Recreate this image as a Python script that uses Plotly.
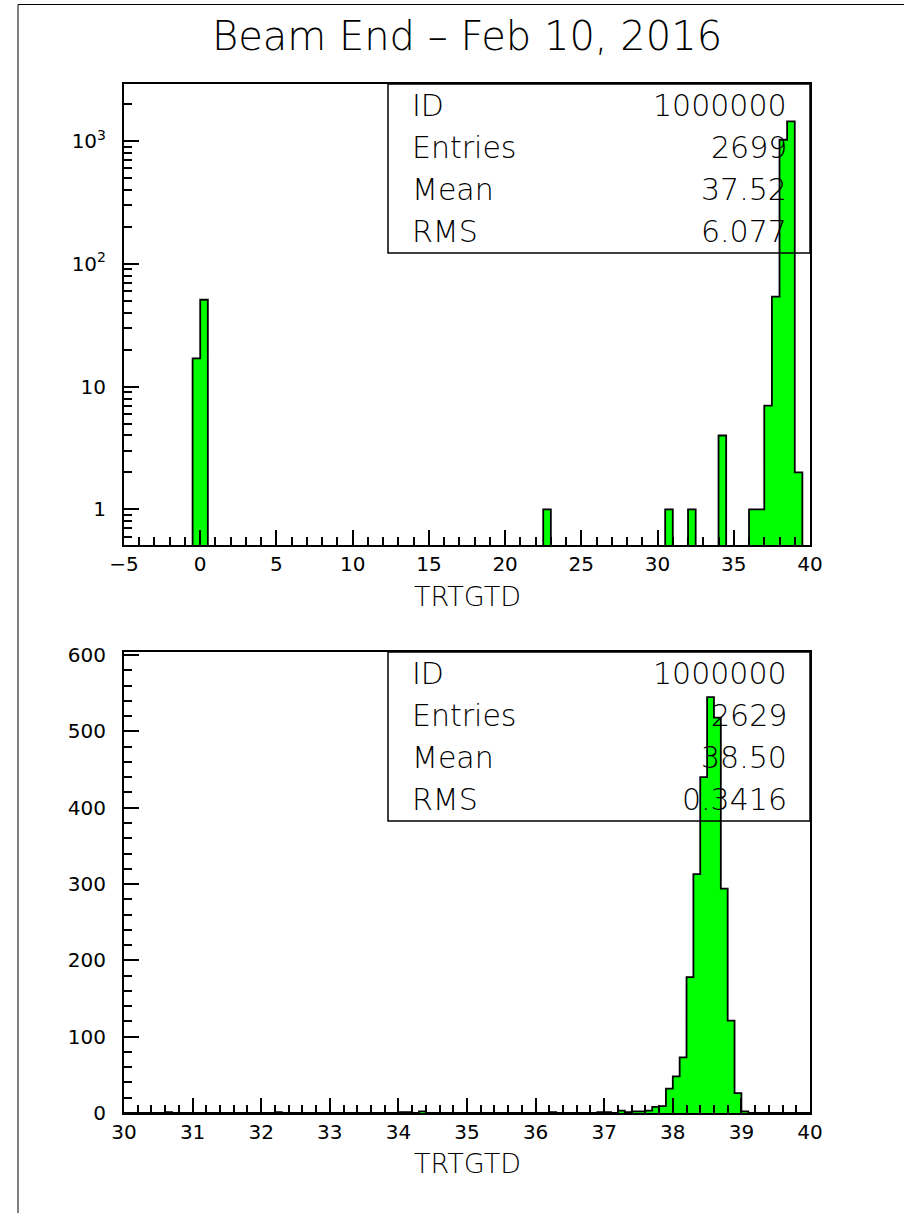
import numpy as np
import plotly.graph_objects as go

W, H = 904, 1213

TITLE = "Beam End – Feb 10, 2016"
X_LABEL = "TRTGTD"
STAT_NAMES = ["ID", "Entries", "Mean", "RMS"]

# Upper histogram: 90 bins of width 0.5 from -5 to 40 (only filled bins listed)
top_xmin, top_xmax, top_bw = -5.0, 40.0, 0.5
top_bin_low = [-0.5, 0.0, 22.5, 30.5, 32.0, 34.0, 36.0, 36.5, 37.0, 37.5, 38.0, 38.5, 39.0]
top_counts = [17, 51, 1, 1, 1, 4, 1, 1, 7, 54, 1025, 1450, 2]
top_stats = ["1000000", "2699", "37.52", "6.077"]

# Lower histogram: 100 bins of width 0.1 from 30 to 40 (only filled bins listed)
bot_xmin, bot_xmax, bot_bw = 30.0, 40.0, 0.1
bot_bin_low = [30.6, 32.2, 34.0, 34.1, 34.3, 36.2, 36.9, 37.0, 37.2, 37.3, 37.4,
               37.5, 37.6, 37.7, 37.8, 37.9, 38.0, 38.1, 38.2, 38.3, 38.4, 38.5,
               38.6, 38.7, 38.8, 38.9, 39.0]
bot_counts = [1, 1, 1, 1, 2, 1, 1, 1, 3, 1, 2,
              2, 3, 8, 9, 32, 48, 73, 178, 313, 440, 545,
              518, 294, 121, 26, 2]
bot_stats = ["1000000", "2629", "38.50", "0.3416"]


def fill_bins(xmin, xmax, bw, lows, counts):
    n = int(round((xmax - xmin) / bw))
    edges = xmin + bw * np.arange(n + 1)
    vals = np.zeros(n)
    for lo, c in zip(lows, counts):
        vals[int(round((lo - xmin) / bw))] = c
    return edges, vals


def step_outline(edges, vals, floor):
    xs, ys = [edges[0]], [floor]
    for i, v in enumerate(vals):
        v = v if v > 0 else floor
        xs += [edges[i], edges[i + 1]]
        ys += [v, v]
    xs.append(edges[-1])
    ys.append(floor)
    return xs, ys


def px_x(x):
    return x / W


def px_y(y):
    return 1 - y / H


FONT = "DejaVu Sans"
GREEN = "#00ff00"


def font(size, weight=200):
    return dict(family=FONT, size=size, color="black", weight=weight)


# frame geometry in page pixels
L, R = 124, 810
T1, B1 = 84, 545
T2, B2 = 652, 1113

fig = go.Figure()

e1, v1 = fill_bins(top_xmin, top_xmax, top_bw, top_bin_low, top_counts)
x1, y1 = step_outline(e1, v1, 0.05)
fig.add_trace(go.Scatter(x=x1, y=y1, mode="lines", fill="toself", fillcolor=GREEN,
                         line=dict(color="black", width=1.8), xaxis="x", yaxis="y",
                         showlegend=False, hoverinfo="skip"))

e2, v2 = fill_bins(bot_xmin, bot_xmax, bot_bw, bot_bin_low, bot_counts)
x2, y2 = step_outline(e2, v2, 0.0)
fig.add_trace(go.Scatter(x=x2, y=y2, mode="lines", fill="toself", fillcolor=GREEN,
                         line=dict(color="black", width=1.8), xaxis="x2", yaxis="y2",
                         showlegend=False, hoverinfo="skip"))

axis_common = dict(showline=True, linecolor="black", linewidth=2, mirror=True,
                   ticks="inside", tickcolor="black", tickwidth=1.5, ticklen=15,
                   showgrid=False, zeroline=False, automargin=False,
                   tickfont=font(20, 400))
minor_common = dict(ticks="inside", ticklen=8, tickcolor="black", tickwidth=1.5,
                    showgrid=False)

log_minor = [m * 10 ** k for k in range(-1, 4) for m in range(2, 10)]
log_minor = [v for v in log_minor if 0.5 < v < 3000 and v not in (1, 10, 100, 1000)]

fig.update_layout(
    template="none",
    width=W, height=H, autosize=False,
    margin=dict(l=0, r=0, t=0, b=0, pad=0),
    paper_bgcolor="white", plot_bgcolor="white",
    xaxis=dict(domain=[px_x(L), px_x(R)], range=[top_xmin, top_xmax], anchor="y",
               tickmode="linear", tick0=0, dtick=5,
               minor=dict(dtick=1, tick0=0, **minor_common), **axis_common),
    yaxis=dict(domain=[px_y(B1), px_y(T1)], type="log", range=[-0.29, 3.465], anchor="x",
               tickmode="array", tickvals=[1, 10, 100, 1000],
               ticktext=["1", "10", "10<sup>2</sup>", "10<sup>3</sup>"],
               minor=dict(tickmode="array", tickvals=log_minor, **minor_common),
               ticklabelstandoff=12, **axis_common),
    xaxis2=dict(domain=[px_x(L), px_x(R)], range=[bot_xmin, bot_xmax], anchor="y2",
                tickmode="linear", tick0=30, dtick=1,
                minor=dict(dtick=0.2, tick0=30, **minor_common), **axis_common),
    yaxis2=dict(domain=[px_y(B2), px_y(T2)], range=[0, 604], anchor="x2",
                tickmode="linear", tick0=0, dtick=100,
                minor=dict(dtick=20, tick0=0, **minor_common),
                ticklabelstandoff=12, **axis_common),
)

shapes = [
    # outer page frame
    dict(type="rect", xref="paper", yref="paper", x0=px_x(18), x1=1.05,
         y0=-0.05, y1=px_y(4.5), line=dict(color="black", width=1)),
]
annotations = [
    dict(text=TITLE, x=px_x((L + R) / 2), y=px_y(36), xref="paper", yref="paper",
         showarrow=False, xanchor="center", yanchor="middle", font=font(40)),
]

for top, bottom, stats, label_y in [(T1, 253, top_stats, 596), (T2, 821, bot_stats, 1163)]:
    shapes.append(dict(type="rect", xref="paper", yref="paper",
                       x0=px_x(388), x1=px_x(R), y0=px_y(bottom), y1=px_y(top),
                       line=dict(color="black", width=1.5), layer="above"))
    row_h = (bottom - top) / 4
    for i, (name, val) in enumerate(zip(STAT_NAMES, stats)):
        yc = top + row_h * (i + 0.5)
        annotations.append(dict(text=name, x=px_x(410), y=px_y(yc), xref="paper", yref="paper",
                                showarrow=False, xanchor="left", yanchor="middle",
                                font=font(30)))
        annotations.append(dict(text=val, x=px_x(789), y=px_y(yc), xref="paper", yref="paper",
                                showarrow=False, xanchor="right", yanchor="middle",
                                font=font(30)))
    annotations.append(dict(text=X_LABEL, x=px_x((L + R) / 2), y=px_y(label_y),
                            xref="paper", yref="paper", showarrow=False,
                            xanchor="center", yanchor="middle", font=font(27)))

fig.update_layout(shapes=shapes, annotations=annotations)

fig.write_html("out.html")
